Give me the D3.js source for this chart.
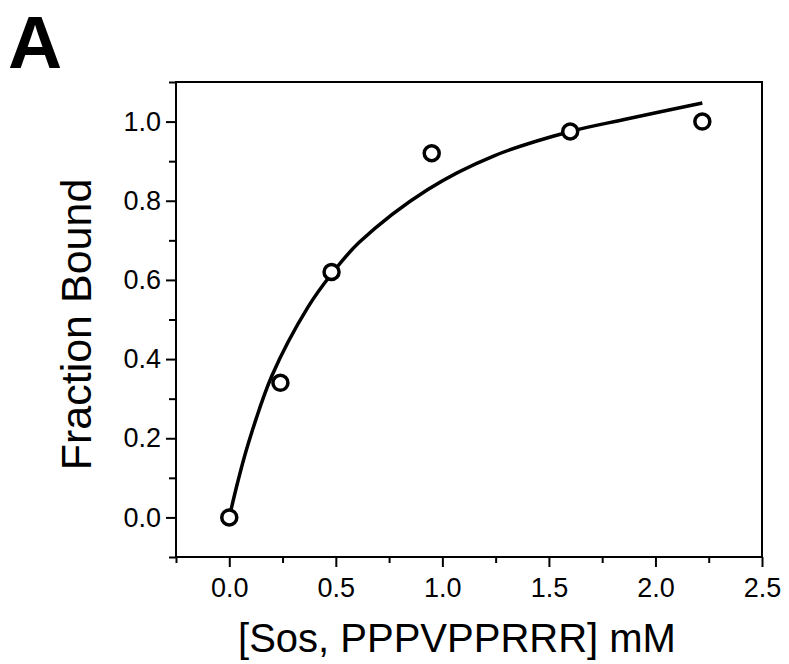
<!DOCTYPE html>
<html>
<head>
<meta charset="utf-8">
<script src="https://cdn.jsdelivr.net/npm/d3@7"></script>
<style>
  body { margin: 0; background: #fff; }
  svg { display: block; font-family: "Liberation Sans", Arial, sans-serif; }
</style>
</head>
<body>
<div id="chart"></div>
<script>
const width = 789,
    height = 664;

// measured points
const concX = [0, 0.24, 0.48, 0.95, 1.6, 2.22];
const fracBound = [0, 0.34, 0.62, 0.92, 0.975, 1.0];

// fitted curve
const fitX = [0, 0.04, 0.09, 0.2, 0.37, 0.48, 0.61, 0.93, 1.24, 1.6, 1.87, 2.22];
const fitY = [0, 0.09, 0.188, 0.358, 0.532, 0.615, 0.695, 0.828, 0.913, 0.975, 1.007, 1.047];

const xMajor = [0, 0.5, 1.0, 1.5, 2.0, 2.5];
const xMinor = [-0.25, 0.25, 0.75, 1.25, 1.75, 2.25];
const yMajor = [0, 0.2, 0.4, 0.6, 0.8, 1.0];
const yMinor = [-0.1, 0.1, 0.3, 0.5, 0.7, 0.9, 1.1];

const margin = { top: 82, right: 27, bottom: 107, left: 176 };

const svg = d3.select("#chart")
    .append("svg")
    .attr("width", width)
    .attr("height", height);

const x = d3.scaleLinear().domain([-0.25, 2.5]).range([margin.left, width - margin.right]);
const y = d3.scaleLinear().domain([-0.1, 1.1]).range([height - margin.bottom, margin.top]);

// frame
svg.append("rect")
    .attr("x", x(-0.25))
    .attr("y", y(1.1))
    .attr("width", x(2.5) - x(-0.25))
    .attr("height", y(-0.1) - y(1.1))
    .attr("fill", "none")
    .attr("stroke", "#000")
    .attr("stroke-width", 2);

const fmt = d3.format(".1f");

// x axis: major with labels, minor without
svg.append("g")
    .attr("transform", `translate(0,${y(-0.1)})`)
    .call(d3.axisBottom(x).tickValues(xMajor).tickSize(10).tickPadding(11).tickFormat(fmt));
svg.append("g")
    .attr("transform", `translate(0,${y(-0.1)})`)
    .call(d3.axisBottom(x).tickValues(xMinor).tickSize(6).tickFormat(""));

// y axis
svg.append("g")
    .attr("transform", `translate(${x(-0.25)},0)`)
    .call(d3.axisLeft(y).tickValues(yMajor).tickSize(10).tickPadding(5).tickFormat(fmt));
svg.append("g")
    .attr("transform", `translate(${x(-0.25)},0)`)
    .call(d3.axisLeft(y).tickValues(yMinor).tickSize(7).tickFormat(""));

svg.selectAll(".domain").remove();
svg.selectAll(".tick line").attr("stroke", "#000").attr("stroke-width", 2);
svg.selectAll(".tick text")
    .attr("fill", "#000")
    .style("font-size", "27px")
    .style("font-family", "'Liberation Sans', Arial, sans-serif");

// fit line
const line = d3.line()
    .x(d => x(d[0]))
    .y(d => y(d[1]))
    .curve(d3.curveCatmullRom.alpha(0.5));

svg.append("path")
    .datum(fitX.map((v, i) => [v, fitY[i]]))
    .attr("d", line)
    .attr("fill", "none")
    .attr("stroke", "#000")
    .attr("stroke-width", 3.5);

// data circles
svg.selectAll(".pt")
    .data(concX.map((v, i) => [v, fracBound[i]]))
    .enter()
    .append("circle")
    .attr("class", "pt")
    .attr("cx", d => x(d[0]))
    .attr("cy", d => y(d[1]))
    .attr("r", 7.5)
    .attr("fill", "#fff")
    .attr("stroke", "#000")
    .attr("stroke-width", 3.5);

// axis titles
svg.append("text")
    .attr("x", (x(-0.25) + x(2.5)) / 2 - 12)
    .attr("y", 652)
    .attr("text-anchor", "middle")
    .style("font-size", "40px")
    .text("[Sos, PPPVPPRRR] mM");

svg.append("text")
    .attr("transform", `translate(91,${(y(1.1) + y(-0.1)) / 2 + 5}) rotate(-90)`)
    .attr("text-anchor", "middle")
    .style("font-size", "43px")
    .text("Fraction Bound");

// panel letter
svg.append("text")
    .attr("x", 8)
    .attr("y", 68)
    .style("font-size", "75px")
    .style("font-weight", "bold")
    .text("A");
</script>
</body>
</html>
